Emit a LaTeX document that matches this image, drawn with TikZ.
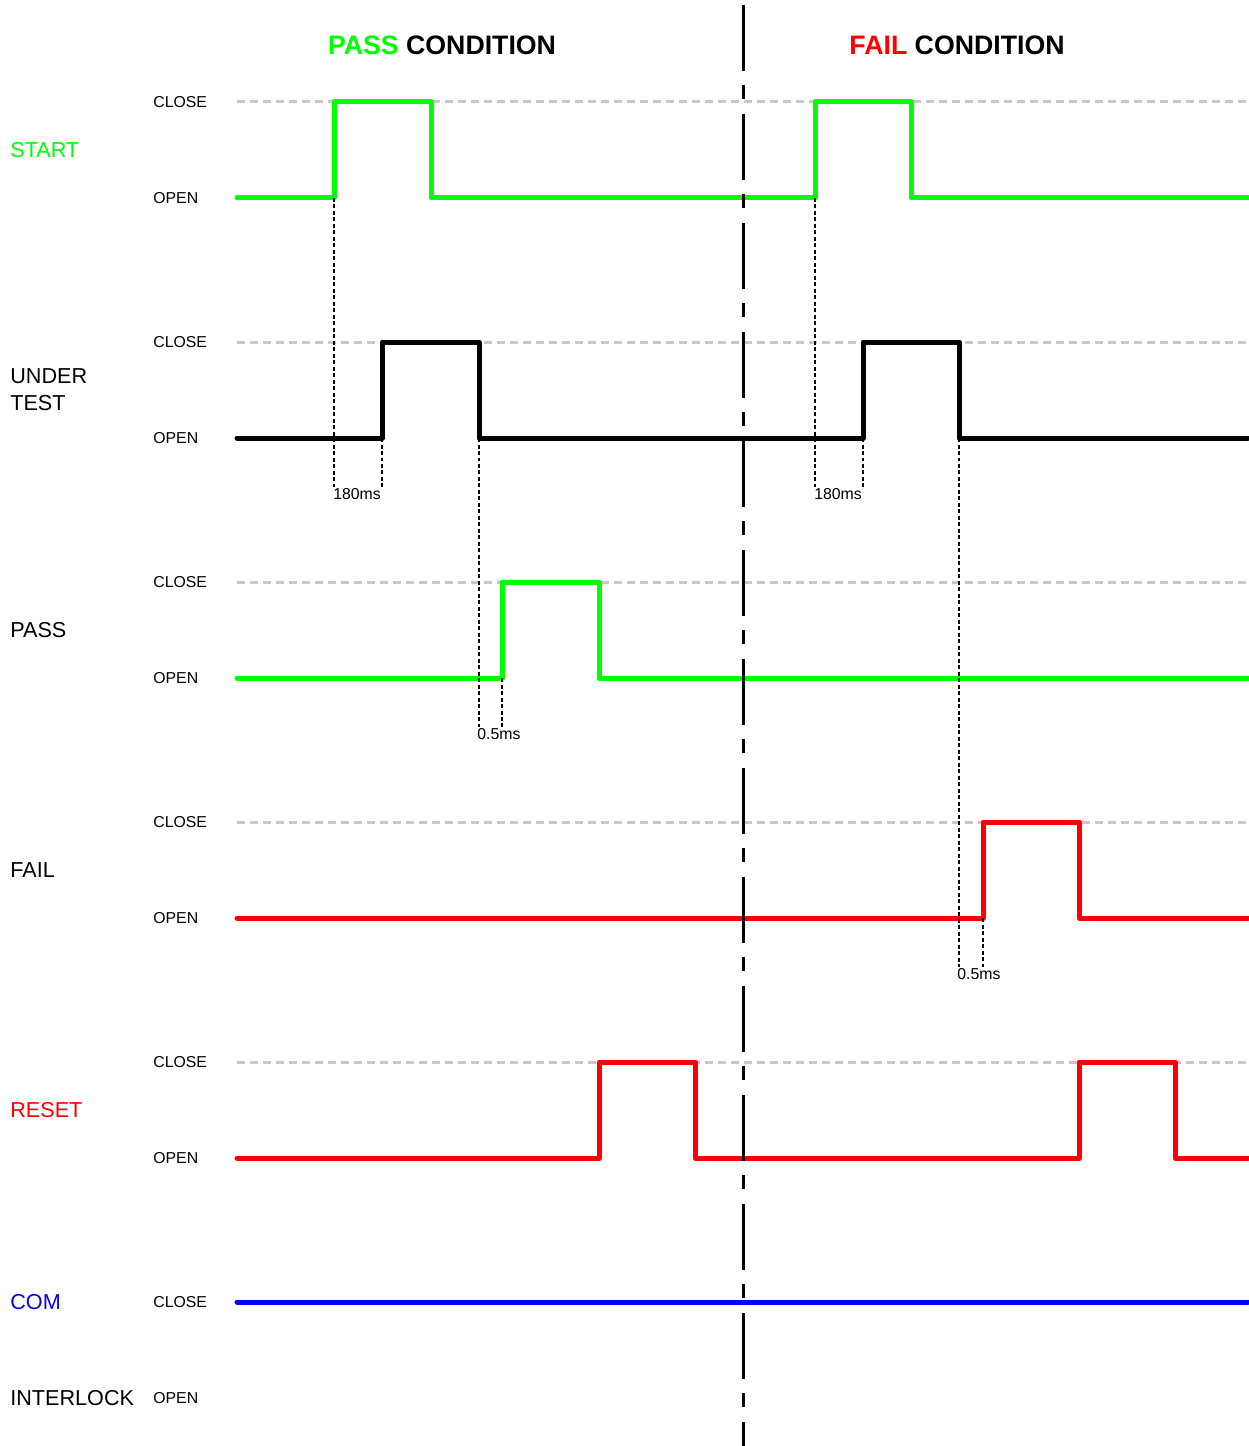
\documentclass[tikz,border=0pt]{standalone}
\usepackage{fontspec}
\setmainfont{Liberation Sans}
\usetikzlibrary{positioning}

\definecolor{sigreen}{RGB}{0,255,0}
\definecolor{sigred}{RGB}{255,0,0}
\definecolor{sigblue}{RGB}{0,0,255}
\definecolor{levelgrey}{RGB}{200,200,200}

\begin{document}
\begin{tikzpicture}[
        x=0.02cm, y=-0.02cm,
        titlelabel/.style={inner sep=0pt, font=\fontsize{15.2}{18}\selectfont\bfseries},
        rowlabel/.style={anchor=west, inner sep=0pt, align=left, font=\fontsize{12.3}{15.3}\selectfont},
        levellabel/.style={anchor=west, inner sep=0pt, font=\fontsize{9}{11}\selectfont},
        timelabel/.style={anchor=west, inner sep=0pt, font=\fontsize{9}{11}\selectfont},
        closeline/.style={draw=levelgrey, line width=0.06cm, dash pattern=on 0.16cm off 0.1cm},
        signal/.style={line width=0.1cm, line cap=round, line join=round},
        guide/.style={draw=black, line width=0.03cm, dash pattern=on 0.08cm off 0.05cm},
        divider/.style={draw=black, line width=0.06cm, dash pattern=on 1.32cm off 0.28cm on 0.28cm off 0.3cm},
]
        \useasboundingbox (0,0) rectangle (1248,1446);

        % titles
        \node[titlelabel] (passtitle) at (442,45) {\textcolor{sigreen}{PASS} CONDITION};
        \node[titlelabel] (failtitle) at (957,45) {\textcolor{sigred}{FAIL} CONDITION};

        % row names
        \node[rowlabel, text=sigreen] (start) at (10,150) {START};
        \node[rowlabel] (undertest) at (10,389.5) {UNDER\\TEST};
        \node[rowlabel] (pass) at (10,630) {PASS};
        \node[rowlabel] (fail) at (10,870) {FAIL};
        \node[rowlabel, text=sigred] (reset) at (10,1110) {RESET};
        \node[rowlabel, text=sigblue] (com) at (10,1302) {COM};
        \node[rowlabel] (interlock) at (10,1398) {INTERLOCK};

        % levels
        \foreach \row/\yc in {start/102, undertest/342, pass/582, fail/822, reset/1062} {
            \node[levellabel] (\row close) at (153,\yc) {CLOSE};
            \node[levellabel] (\row open) at (153,\yc+96) {OPEN};
            \draw[closeline] (237,\yc) -- (1248,\yc);
        }
        \node[levellabel] (comclose) at (153,1302) {CLOSE};
        \node[levellabel] (interlockopen) at (153,1398) {OPEN};

        % waveforms
        \draw[signal, sigreen] (237,198) -- (334,198) -- (334,102) -- (431,102) -- (431,198)
            -- (815,198) -- (815,102) -- (911,102) -- (911,198) -- (1248,198);
        \draw[signal, black] (237,438) -- (382,438) -- (382,342) -- (479,342) -- (479,438)
            -- (863,438) -- (863,342) -- (959,342) -- (959,438) -- (1248,438);
        \draw[signal, sigreen] (237,678) -- (502,678) -- (502,582) -- (599,582) -- (599,678) -- (1248,678);
        \draw[signal, sigred] (237,918) -- (983,918) -- (983,822) -- (1079,822) -- (1079,918) -- (1248,918);
        \draw[signal, sigred] (237,1158) -- (599,1158) -- (599,1062) -- (695,1062) -- (695,1158)
            -- (1079,1158) -- (1079,1062) -- (1175,1062) -- (1175,1158) -- (1248,1158);
        \draw[signal, sigblue] (237,1302) -- (1248,1302);

        % delays
        \draw[guide] (334,198) -- (334,487);
        \draw[guide] (382,438) -- (382,487);
        \node[timelabel] (delaya) at (333,494) {180ms};
        \draw[guide] (815,198) -- (815,487);
        \draw[guide] (863,438) -- (863,487);
        \node[timelabel] (delayb) at (814,494) {180ms};
        \draw[guide] (479,438) -- (479,727);
        \draw[guide] (502,678) -- (502,727);
        \node[timelabel] (delayc) at (477,734) {0.5ms};
        \draw[guide] (959,438) -- (959,967);
        \draw[guide] (983,918) -- (983,967);
        \node[timelabel] (delayd) at (957,974) {0.5ms};

        % pass / fail split
        \draw[divider] (743,5) -- (743,1446);
\end{tikzpicture}
\end{document}
